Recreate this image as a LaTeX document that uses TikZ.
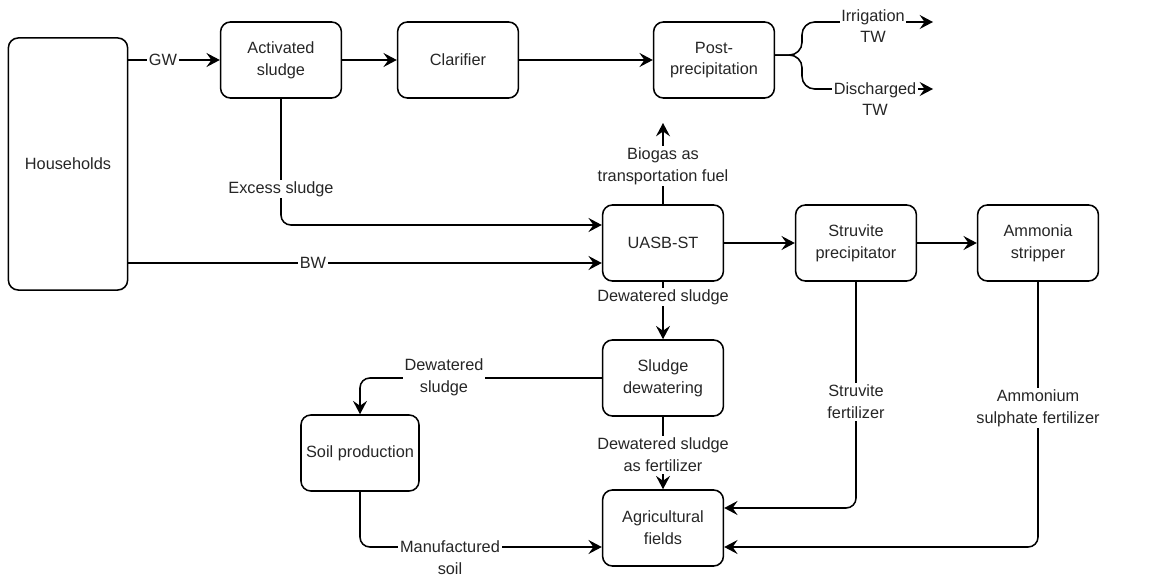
\documentclass[tikz,border=0pt]{standalone}
\usepackage{fontspec}
\setmainfont{Liberation Sans}
\usepackage{tikz}
\usetikzlibrary{positioning,calc,arrows.meta}

\begin{document}
\begin{tikzpicture}[x=0.025cm, y=-0.025cm,
    every node/.style={font=\fontsize{11.6pt}{15.5pt}\selectfont, text=black!85},
    box/.style={draw, line width=1.1pt, rounded corners=7pt, align=center,
      minimum width=3.02cm, minimum height=1.9cm, inner sep=2pt},
    flow/.style={line width=1.1pt, -{Stealth[length=9.5pt, width=10pt, inset=3.5pt]}},
    link/.style={line width=1.1pt, rounded corners=7pt},
    lbl/.style={fill=white, align=center, inner sep=1.2pt}]
  \useasboundingbox (0,0) rectangle (1169,577);

  % Process units
  \node[box, minimum height=6.3cm, minimum width=2.98cm] (hh) at (68,164) {Households};
  \node[box] (actsl) at (281,60) {Activated\\sludge};
  \node[box] (clar) at (458,60) {Clarifier};
  \node[box] (postp) at (714,60) {Post-\\precipitation};
  \node[box] (uasb) at (663,243) {UASB-ST};
  \node[box] (struv) at (856,243) {Struvite\\precipitator};
  \node[box] (ammon) at (1038,243) {Ammonia\\stripper};
  \node[box] (dewat) at (663,378) {Sludge\\dewatering};
  \node[box, minimum width=2.95cm] (soil) at (360,453) {Soil production};
  \node[box] (agri) at (663,528) {Agricultural\\fields};

  % Free ends and ports
  \coordinate (split) at (802,55);
  \coordinate (irrend) at (933,22);
  \coordinate (disend) at (933,89);
  \coordinate (gasend) at (663,123);
  \coordinate (exin) at ([yshift=0.45cm]uasb.west);
  \coordinate (bwin) at ([yshift=-0.5cm]uasb.west);
  \coordinate (soilin) at ([yshift=-0.475cm]agri.west);
  \coordinate (struvin) at ([yshift=0.5cm]agri.east);
  \coordinate (ammin) at ([yshift=-0.475cm]agri.east);

  % Greywater line
  \draw[flow] (hh.east |- actsl.west) -- (actsl.west);
  \draw[flow] (actsl) -- (clar);
  \draw[flow] (clar) -- (postp);
  \draw[flow, link, rounded corners=9pt] ([yshift=3.5pt]postp.east) -- (split) |- (irrend);
  \draw[flow, link, rounded corners=9pt] ([yshift=3.5pt]postp.east) -- (split) |- (disend);

  % Blackwater line
  \draw[flow, link] (actsl.south) |- (exin);
  \draw[flow] (hh.east |- bwin) -- (bwin);
  \draw[flow] (uasb.north) -- (gasend);
  \draw[flow] (uasb) -- (struv);
  \draw[flow] (struv) -- (ammon);
  \draw[flow] (uasb.south) -- (dewat.north);

  % Products to fields
  \draw[flow, link] (dewat.west) -| (soil.north);
  \draw[flow] (dewat.south) -- (agri.north);
  \draw[flow, link] (soil.south) |- (soilin);
  \draw[flow, link] (struv.south) |- (struvin);
  \draw[flow, link] (ammon.south) |- (ammin);

  % Labels
  \node[lbl] (gw) at (163,60) {GW};
  \node[lbl] (bw) at (313,263) {BW};
  \node[lbl] (irr) at (873,26) {Irrigation\\TW};
  \node[lbl] (dis) at (875,99) {Discharged\\TW};
  \node[lbl] (gas) at (663,166) {Biogas as\\transportation fuel};
  \node[lbl] (exs) at (281,189) {Excess sludge};
  \node[lbl] (dws) at (663,297) {Dewatered sludge};
  \node[lbl] (dws2) at (444,377) {Dewatered\\sludge};
  \node[lbl] (dwf) at (663,455) {Dewatered sludge\\as fertilizer};
  \node[lbl] (mfs) at (450,558) {Manufactured\\soil};
  \node[lbl] (stf) at (856,402) {Struvite\\fertilizer};
  \node[lbl] (asf) at (1038,408) {Ammonium\\sulphate fertilizer};
\end{tikzpicture}
\end{document}
